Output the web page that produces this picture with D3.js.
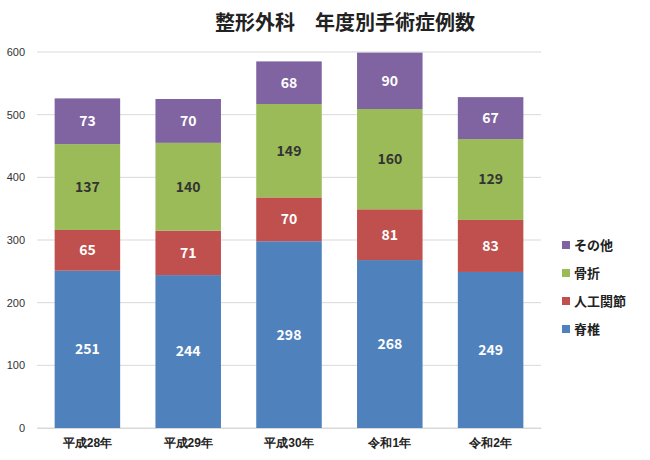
<!DOCTYPE html>
<html><head><meta charset="utf-8"><script src="https://cdn.jsdelivr.net/npm/d3@7"></script>
<style>body{margin:0;background:#fff;font-family:"Noto Sans CJK JP",sans-serif}</style></head>
<body><svg width="650" height="460"></svg>
<script>
const categories=["平成28年","平成29年","平成30年","令和1年","令和2年"];
const seriesNames=["脊椎","人工関節","骨折","その他"];
const spine=[251,244,298,268,249];
const joint=[65,71,70,81,83];
const fracture=[137,140,149,160,129];
const other=[73,70,68,90,67];
const yTicks=[0,100,200,300,400,500,600];
const colors=["#4F81BD","#C0504D","#9BBB59","#8064A2"];
const labelColors=["#fff","#fff","#333","#fff"];
const vals=[spine,joint,fracture,other];
const svg=d3.select("svg");
const x=d3.scaleBand().domain(categories).range([37,541]).paddingInner(0.35).paddingOuter(0.175);
const y=d3.scaleLinear().domain([0,600]).range([428,52]);
svg.append("g").selectAll("line").data(yTicks).join("line").attr("x1",37).attr("x2",541)
 .attr("y1",d=>y(d)).attr("y2",d=>y(d)).attr("stroke","#d9d9d9");
svg.append("g").attr("transform","translate(37,0)").call(d3.axisLeft(y).tickValues(yTicks).tickSize(0).tickPadding(12))
 .call(g=>g.select(".domain").remove()).selectAll("text").attr("font-size",11).attr("fill","#333");
svg.append("g").attr("transform","translate(0,428)").call(d3.axisBottom(x).tickSize(0).tickPadding(10))
 .call(g=>g.select(".domain").attr("stroke","#d9d9d9")).selectAll("text").attr("font-size",12).attr("font-weight","bold").attr("fill","#222");
const data=categories.map((c,i)=>{const o={cat:c};seriesNames.forEach((s,j)=>o[s]=vals[j][i]);return o;});
const stack=d3.stack().keys(seriesNames)(data);
stack.forEach((layer,j)=>{
 const g=svg.append("g");
 g.selectAll("rect").data(layer).join("rect").attr("x",d=>x(d.data.cat)).attr("width",x.bandwidth())
  .attr("y",d=>y(d[1])).attr("height",d=>y(d[0])-y(d[1])).attr("fill",colors[j]);
 g.selectAll("text").data(layer).join("text").attr("x",d=>x(d.data.cat)+x.bandwidth()/2)
  .attr("y",d=>(y(d[0])+y(d[1]))/2).attr("dy","0.35em").attr("text-anchor","middle")
  .attr("font-size",14).attr("font-weight","bold").attr("fill",labelColors[j]).text(d=>d[1]-d[0]);
});
const lg=svg.append("g");
seriesNames.slice().reverse().forEach((s,i)=>{
 const j=3-i;const yy=245+i*28;
 lg.append("rect").attr("x",562).attr("y",yy-4).attr("width",8).attr("height",8).attr("fill",colors[j]);
 lg.append("text").attr("x",574).attr("y",yy).attr("dy","0.35em").attr("font-size",13).attr("font-weight","bold").attr("fill","#222").text(s);
});
svg.append("text").attr("x",345).attr("y",30).attr("text-anchor","middle").attr("font-size",20).attr("font-weight","bold").attr("fill","#222").text("整形外科　年度別手術症例数");
</script></body></html>
